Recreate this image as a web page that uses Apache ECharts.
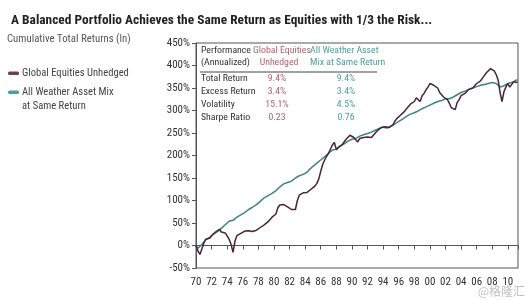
<!DOCTYPE html>
<html><head><meta charset="utf-8">
<script src="https://cdn.jsdelivr.net/npm/echarts@6/dist/echarts.min.js"></script>
<style>html,body{margin:0;padding:0;background:#fff}#c{width:529px;height:300px}</style>
</head><body><div id="c"></div>
<script>
// Quarterly observations, 1970 Q1 .. 2011 Q2
const startYear = 1970;
const equities = [
0,-12,-20,-8, 5,14,10,16, 22,26,30,34, 36,30,33,28, 24,14,2,-15,
10,22,24,27, 30,32,31,33, 32,31,33,34, 34,40,44,46, 49,53,58,63,
66,70,84,90, 92,91,88,86, 83,80,77,80, 100,112,116,117, 120,118,122,125,
128,132,138,148, 165,180,190,198, 205,214,224,229, 213,218,221,224, 230,236,240,245,
247,240,238,230, 238,242,240,243, 241,244,240,245, 248,255,259,262, 266,264,260,262,
263,268,276,282, 286,290,293,298, 304,306,314,316, 320,328,326,320, 333,338,346,352,
360,362,356,352, 350,340,336,330, 334,324,316,306, 304,302,318,324, 333,336,338,342,
347,346,350,352, 360,362,366,372, 378,384,386,393, 394,388,380,368, 340,320,342,352,
360,352,358,364, 366,362
];
const allWeather = [
0,-6,-4,2, 8,13,14,18, 22,25,28,31, 34,38,42,46, 50,54,52,56,
60,63,66,68, 70,73,76,80, 82,85,87,91, 94,98,102,106, 108,111,114,116,
119,122,125,130, 133,137,139,140, 142,143,146,150, 153,155,157,158, 161,163,168,172,
176,180,183,186, 190,194,197,200, 205,209,212,216, 214,218,221,224, 226,229,232,234,
236,237,238,241, 243,245,246,248, 249,250,252,254, 256,258,260,262, 263,262,261,263,
265,268,270,273, 276,278,281,284, 287,289,292,294, 295,297,299,302, 304,306,308,310,
312,314,316,318, 320,321,322,324, 326,327,326,329, 330,332,335,338, 340,341,343,345,
347,348,350,351, 353,354,356,357, 358,359,360,362, 362,361,360,356, 352,350,355,358,
360,358,362,365, 367,368
];
const seriesNames = ['Global Equities Unhedged', 'All Weather Asset Mix at Same Return'];
const tableRows = ['Total Return', 'Excess Return', 'Volatility', 'Sharpe Ratio'];
const equityStats = ['9.4%', '3.4%', '15.1%', '0.23'];
const weatherStats = ['9.4%', '3.4%', '4.5%', '0.76'];
const yMin = -50, yMax = 450, yStep = 50;
const xMin = 1970, xMax = 2011.3, xStep = 2;

const toPairs = arr => arr.map((v, i) => [startYear + i * 0.25, v]);

const F = "'Liberation Sans Narrow', 'Roboto Condensed', 'Liberation Sans', sans-serif";
const colEq = '#b5616c', colAw = '#4aa397';
const TF = '9.8px ' + F;

const graphic = [
  { type: 'text', left: 7, top: 34, style: { text: 'Cumulative Total Returns (ln)', fill: '#555', font: '10.8px ' + F } },
  { type: 'rect', shape: { x: 8, y: 71.5, width: 11, height: 3.5, r: 1.5 }, style: { fill: '#7a3a4e' } },
  { type: 'text', x: 22, y: 73, style: { text: seriesNames[0], fill: '#444', font: '10.6px ' + F, verticalAlign: 'middle' } },
  { type: 'rect', shape: { x: 8, y: 90.5, width: 11, height: 3.5, r: 1.5 }, style: { fill: '#4e9c9c' } },
  { type: 'text', x: 22, y: 92, style: { text: 'All Weather Asset Mix', fill: '#444', font: '10.6px ' + F, verticalAlign: 'middle' } },
  { type: 'text', x: 22, y: 106, style: { text: 'at Same Return', fill: '#444', font: '10.6px ' + F, verticalAlign: 'middle' } },
  { type: 'text', x: 201, y: 51, style: { text: 'Performance', fill: '#333', font: TF, verticalAlign: 'middle' } },
  { type: 'text', x: 201, y: 63, style: { text: '(Annualized)', fill: '#333', font: TF, verticalAlign: 'middle' } },
  { type: 'text', x: 253, y: 51, style: { text: 'Global Equities', fill: colEq, font: TF, verticalAlign: 'middle' } },
  { type: 'text', x: 279, y: 63, style: { text: 'Unhedged', fill: colEq, font: TF, align: 'center', verticalAlign: 'middle' } },
  { type: 'text', x: 310, y: 51, style: { text: 'All Weather Asset', fill: colAw, font: TF, verticalAlign: 'middle' } },
  { type: 'text', x: 310, y: 63, style: { text: 'Mix at Same Return', fill: colAw, font: TF, verticalAlign: 'middle' } },
  { type: 'line', shape: { x1: 200, y1: 72, x2: 377, y2: 72 }, style: { stroke: '#444', lineWidth: 1 } },
  { type: 'text', right: 4, bottom: 3, style: { text: '@格隆汇', fill: 'rgba(140,140,140,0.55)', font: '12px "Noto Sans CJK SC"' } }
];
tableRows.forEach((r, i) => {
  const y = 79 + i * 13;
  graphic.push({ type: 'text', x: 201, y: y, style: { text: r, fill: '#333', font: TF, verticalAlign: 'middle' } });
  graphic.push({ type: 'text', x: 277, y: y, style: { text: equityStats[i], fill: colEq, font: TF, align: 'center', verticalAlign: 'middle' } });
  graphic.push({ type: 'text', x: 346, y: y, style: { text: weatherStats[i], fill: colAw, font: TF, align: 'center', verticalAlign: 'middle' } });
});

const chart = echarts.init(document.getElementById('c'), null, { renderer: 'canvas' });
chart.setOption({
  animation: false,
  backgroundColor: '#fff',
  title: {
    text: 'A Balanced Portfolio Achieves the Same Return as Equities with 1/3 the Risk...',
    left: 6, top: 9,
    textStyle: { fontFamily: F, fontSize: 13.4, fontWeight: 'bold', color: '#222' }
  },
  legend: { show: false, data: seriesNames },
  grid: { left: 196, right: 11, top: 43, bottom: 32, show: true, borderColor: '#555', borderWidth: 1 },
  xAxis: [
    { type: 'value', min: xMin, max: xMax, interval: xStep, position: 'bottom',
      axisLine: { onZero: false, show: false }, axisTick: { show: false }, splitLine: { show: false },
      axisLabel: { fontFamily: F, fontSize: 11, color: '#333', margin: 9,
        formatter: v => (Math.abs(v - Math.round(v)) < 1e-6 && Math.round(v) % 2 === 0) ? String(Math.round(v) % 100).padStart(2, '0') : '' } },
    { type: 'value', min: xMin, max: xMax, interval: xStep, position: 'top',
      axisLine: { onZero: true, lineStyle: { color: '#555', width: 1 } },
      axisTick: { inside: true, length: 4, lineStyle: { color: '#555' } },
      axisLabel: { show: false }, splitLine: { show: false } }
  ],
  yAxis: {
    type: 'value', min: yMin, max: yMax, interval: yStep,
    axisLine: { show: true, lineStyle: { color: '#555' } },
    axisTick: { show: true, length: 4, lineStyle: { color: '#555' } },
    splitLine: { show: false },
    axisLabel: { fontFamily: F, fontSize: 11, color: '#333', margin: 6, formatter: v => v + '%' }
  },
  graphic: graphic,
  series: [
    { name: seriesNames[1], type: 'line', data: toPairs(allWeather), showSymbol: false, smooth: false,
      lineStyle: { color: '#3f857c', width: 1.5 }, itemStyle: { color: '#4e9c9c' }, z: 2 },
    { name: seriesNames[0], type: 'line', data: toPairs(equities), showSymbol: false, smooth: false,
      lineStyle: { color: '#4a2533', width: 1.5 }, itemStyle: { color: '#7a3a4e' }, z: 3 }
  ]
});
</script>
</body></html>
